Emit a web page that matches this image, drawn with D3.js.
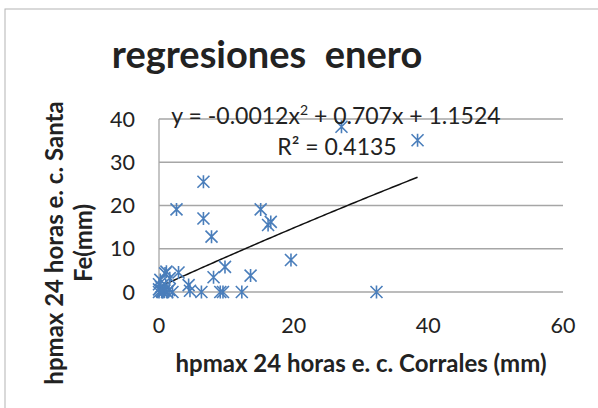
<!DOCTYPE html>
<html>
<head>
<meta charset="utf-8">
<script src="https://cdn.jsdelivr.net/npm/d3@7"></script>
<style>
  body { margin: 0; background: #fff; }
  text { font-family: Lato, "Open Sans", sans-serif; fill: #222; }
</style>
</head>
<body>
<div id="chart"></div>
<script>
// values
const xValues = [27.1, 38.4, 6.6, 2.6, 6.6, 7.8, 15.1, 16.2, 16.6, 19.6, 9.8, 8.1, 13.6, 12.3, 9.1, 9.5, 6.3, 4.4, 4.6, 32.3,
                 1.1, 0.9, 2.9, 1.6, 0, 0, 0.3, 0.5, 0.8, 1.2, 0, 0.2, 1.5, 0.6, 2, 1, 0.4];
const yValues = [38.2, 35.1, 25.5, 19.1, 17.0, 12.8, 19.1, 15.5, 16.2, 7.4, 5.8, 3.4, 3.8, 0, 0, 0, 0, 1.6, 0.3, 0,
                 4.7, 4.3, 4.5, 3.2, 0, 0.6, 1.2, 0, 0.3, 0, 1.8, 2.8, 0.5, 0, 0, 1.5, 0.2];
const xTicks = [0, 20, 40, 60];
const yTicks = [0, 10, 20, 30, 40];
const coef = [-0.0012, 0.707, 1.1524];

const W = 598, H = 408;
const plot = { left: 159, right: 563, top: 119, bottom: 292 };

const svg = d3.select("#chart").append("svg")
    .attr("width", W)
    .attr("height", H);

svg.append("rect").attr("width", W).attr("height", H).attr("fill", "#fff");

// chart border (only top and left fall inside the picture)
svg.append("rect")
    .attr("x", 5).attr("y", 9)
    .attr("width", W + 20).attr("height", H + 20)
    .attr("fill", "none")
    .attr("stroke", "#b3b3b3")
    .attr("stroke-width", 1);

const x = d3.scaleLinear().domain([0, 60]).range([plot.left, plot.right]);
const y = d3.scaleLinear().domain([0, 40]).range([plot.bottom, plot.top]);

// gridlines
svg.append("g")
    .selectAll("line")
    .data(yTicks)
    .join("line")
    .attr("x1", plot.left).attr("x2", plot.right)
    .attr("y1", d => y(d)).attr("y2", d => y(d))
    .attr("stroke", "#a6a6a6")
    .attr("stroke-width", 1.3);

// y axis line
svg.append("line")
    .attr("x1", plot.left).attr("x2", plot.left)
    .attr("y1", plot.top).attr("y2", plot.bottom)
    .attr("stroke", "#a6a6a6")
    .attr("stroke-width", 1.3);

// tick labels
svg.append("g")
    .selectAll("text")
    .data(yTicks)
    .join("text")
    .attr("x", 135)
    .attr("y", d => y(d))
    .attr("dy", "0.36em")
    .attr("text-anchor", "end")
    .style("font-size", "21.5px")
    .text(d => d);

svg.append("g")
    .selectAll("text")
    .data(xTicks)
    .join("text")
    .attr("x", d => x(d))
    .attr("y", 325)
    .attr("dy", "0.36em")
    .attr("text-anchor", "middle")
    .style("font-size", "21.5px")
    .text(d => d);

// trendline
const xMax = d3.max(xValues);
const trend = d3.range(0, 101).map(i => {
    const xv = xMax * i / 100;
    return [xv, coef[0] * xv * xv + coef[1] * xv + coef[2]];
});
svg.append("path")
    .datum(trend)
    .attr("d", d3.line().x(d => x(d[0])).y(d => y(d[1])))
    .attr("fill", "none")
    .attr("stroke", "#111")
    .attr("stroke-width", 1.5);

// asterisk markers
const r = 6.5, q = 6;
svg.append("g")
    .selectAll("path")
    .data(xValues.map((d, i) => [d, yValues[i]]))
    .join("path")
    .attr("transform", d => `translate(${x(d[0])},${y(d[1])})`)
    .attr("d", `M${-q},${-q}L${q},${q}M${-q},${q}L${q},${-q}M0,${-r}V${r}`)
    .attr("fill", "none")
    .attr("stroke", "#4a7ebb")
    .attr("stroke-width", 1.6);

// equation labels
svg.append("text")
    .attr("x", 336).attr("y", 124)
    .attr("text-anchor", "middle")
    .style("font-size", "23px")
    .html("y = -0.0012x<tspan font-size='14' dy='-9'>2</tspan><tspan dy='9'> + 0.707x + 1.1524</tspan>");

svg.append("text")
    .attr("x", 337).attr("y", 155)
    .attr("text-anchor", "middle")
    .style("font-size", "23px")
    .text("R² = 0.4135");

// title
svg.append("text")
    .attr("x", 267).attr("y", 68)
    .attr("text-anchor", "middle")
    .style("font-size", "38px")
    .style("font-weight", "bold")
    .style("white-space", "pre")
    .text("regresiones  enero");

// axis titles
svg.append("text")
    .attr("x", 361).attr("y", 372)
    .attr("text-anchor", "middle")
    .style("font-size", "24px")
    .style("font-weight", "bold")
    .text("hpmax 24 horas e. c. Corrales (mm)");

const yTitle = svg.append("text")
    .attr("transform", "translate(0,243) rotate(-90)")
    .attr("text-anchor", "middle")
    .style("font-size", "24px")
    .style("font-weight", "bold");
yTitle.append("tspan").attr("x", 0).attr("y", 63).text("hpmax 24 horas e. c. Santa");
yTitle.append("tspan").attr("x", 0).attr("y", 92).text("Fe(mm)");
</script>
</body>
</html>
